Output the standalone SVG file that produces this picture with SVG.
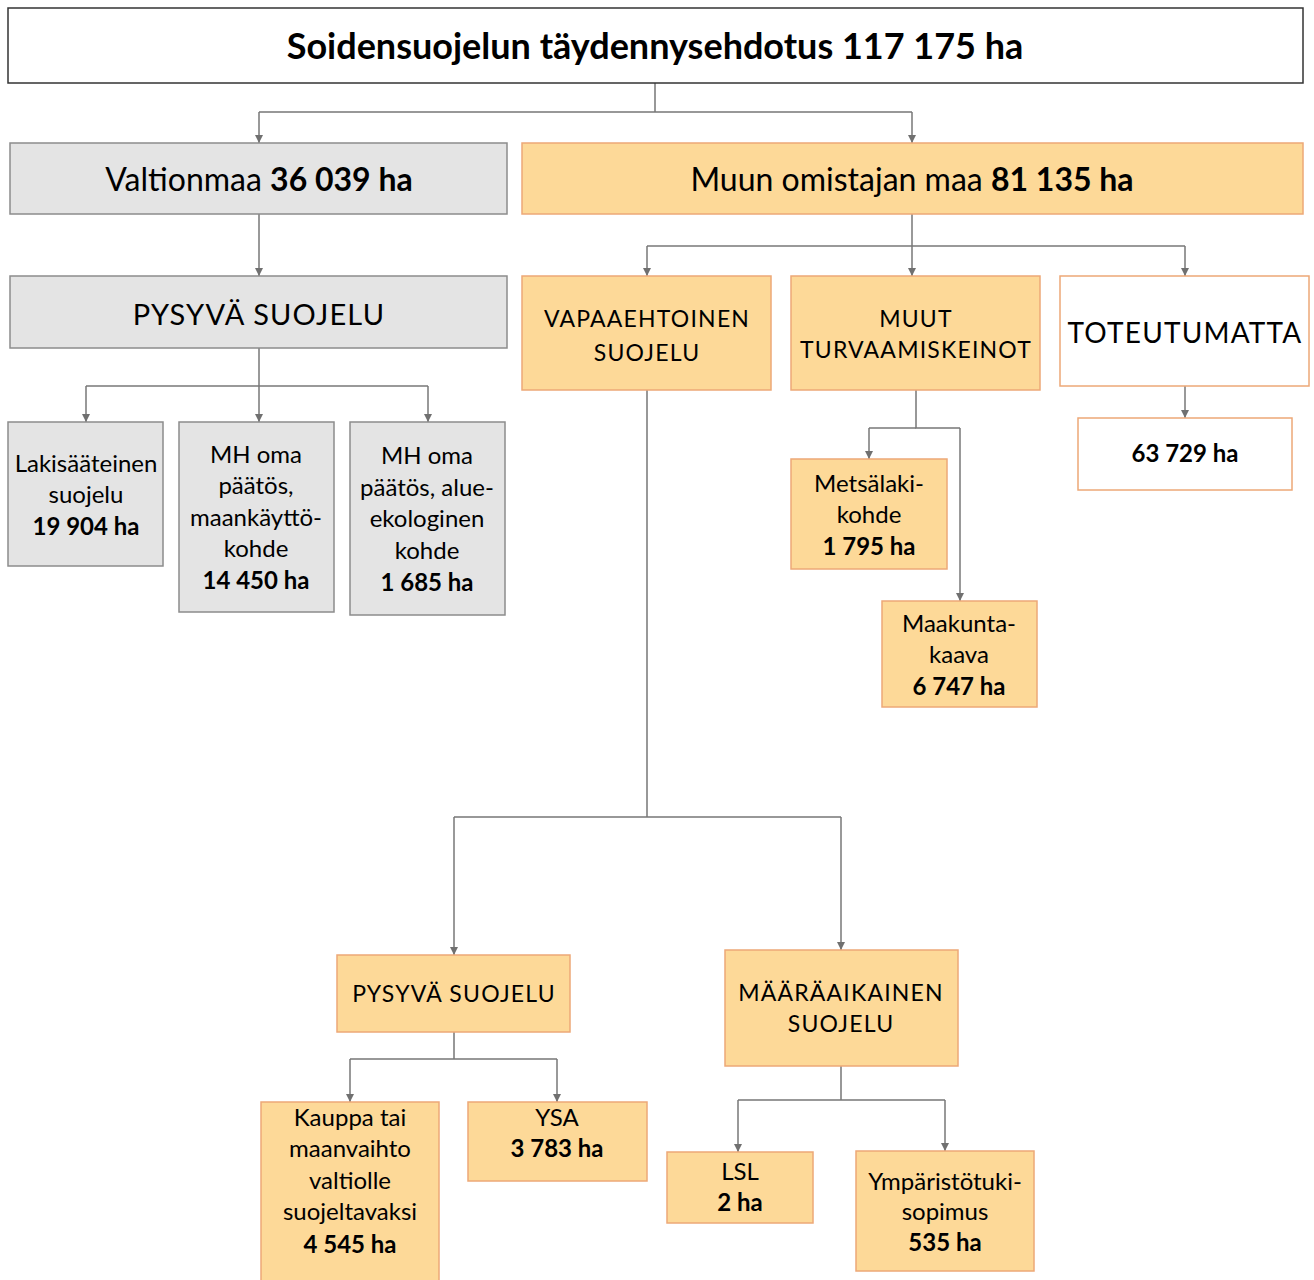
<svg xmlns="http://www.w3.org/2000/svg" width="1314" height="1280" viewBox="0 0 1314 1280">
<defs>
<marker id="arr" viewBox="0 0 10 10" refX="10" refY="5" markerWidth="8" markerHeight="8" markerUnits="userSpaceOnUse" orient="auto">
<path d="M0,0 L10,5 L0,10 z" fill="#707070"/>
</marker>
<style>
text{font-family:Lato,"Open Sans","Liberation Sans",sans-serif;fill:#000;text-anchor:middle}
.b{font-weight:bold}
.gray{fill:#e4e4e4;stroke:#8c8c8c;stroke-width:1.5}
.org{fill:#fdd998;stroke:#eda877;stroke-width:1.5}
.wht{fill:#fff;stroke:#eda877;stroke-width:1.5}
.c path{fill:none;stroke:#777;stroke-width:1.5}
.c path.a{marker-end:url(#arr)}
.t22{font-size:24px}
.tc{font-size:23px}
.cap{letter-spacing:1.2px}
</style>
</defs>
<rect width="1314" height="1280" fill="#fff"/>
<g class="c">
<path d="M655,83 V112 M259,112 H912"/>
<path class="a" d="M259,112 V143"/>
<path class="a" d="M912,112 V143"/>
<path class="a" d="M259,214 V276"/>
<path class="a" d="M259,348 V422"/>
<path d="M86,386 H428"/>
<path class="a" d="M86,386 V422"/>
<path class="a" d="M428,386 V422"/>
<path class="a" d="M912,214 V276"/>
<path d="M647,246 H1185"/>
<path class="a" d="M647,246 V276"/>
<path class="a" d="M1185,246 V276"/>
<path class="a" d="M1185,386 V418"/>
<path d="M916,390 V428 H960"/>
<path class="a" d="M869,428 H869 V459"/>
<path d="M869,428 H916"/>
<path class="a" d="M960,428 V601"/>
<path d="M647,390 V817 M454,817 H841"/>
<path class="a" d="M454,817 V955"/>
<path class="a" d="M841,817 V950"/>
<path d="M454,1032 V1059 M350,1059 H557"/>
<path class="a" d="M350,1059 V1102"/>
<path class="a" d="M557,1059 V1102"/>
<path d="M841,1066 V1100 M738,1100 H945"/>
<path class="a" d="M738,1100 V1152"/>
<path class="a" d="M945,1100 V1151"/>
</g>
<g id="title">
<rect x="8" y="8" width="1295" height="75" fill="#fff" stroke="#333" stroke-width="1.5"/>
<text class="b" x="655" y="59" font-size="36">Soidensuojelun täydennysehdotus 117 175 ha</text>
</g>
<g id="valtionmaa">
<rect class="gray" x="10" y="143" width="497" height="71"/>
<text x="259" y="191" font-size="32">Valtionmaa <tspan class="b">36 039 ha</tspan></text>
</g>
<g id="muun">
<rect class="org" x="522" y="143" width="781" height="71"/>
<text x="912" y="191" font-size="32">Muun omistajan maa <tspan class="b">81 135 ha</tspan></text>
</g>
<g id="pysyva1">
<rect class="gray" x="10" y="276" width="497" height="72"/>
<text class="cap" x="259" y="325" font-size="29">PYSYVÄ SUOJELU</text>
</g>
<g id="lakisaateinen">
<rect class="gray" x="8" y="422" width="155" height="144"/>
<text class="t22" x="86" y="472">Lakisääteinen</text>
<text class="t22" x="86" y="503">suojelu</text>
<text class="t22 b" x="86" y="535">19 904 ha</text>
</g>
<g id="mh1">
<rect class="gray" x="179" y="422" width="155" height="190"/>
<text class="t22" x="256" y="463">MH oma</text>
<text class="t22" x="256" y="494">päätös,</text>
<text class="t22" x="256" y="526">maankäyttö-</text>
<text class="t22" x="256" y="557">kohde</text>
<text class="t22 b" x="256" y="589">14 450 ha</text>
</g>
<g id="mh2">
<rect class="gray" x="350" y="422" width="155" height="193"/>
<text class="t22" x="427" y="464">MH oma</text>
<text class="t22" x="427" y="496">päätös, alue-</text>
<text class="t22" x="427" y="527">ekologinen</text>
<text class="t22" x="427" y="559">kohde</text>
<text class="t22 b" x="427" y="591">1 685 ha</text>
</g>
<g id="vapaaehtoinen">
<rect class="org" x="522" y="276" width="249" height="114"/>
<text class="tc cap" x="647" y="327">VAPAAEHTOINEN</text>
<text class="tc cap" x="647" y="361">SUOJELU</text>
</g>
<g id="muut">
<rect class="org" x="791" y="276" width="249" height="114"/>
<text class="tc cap" x="916" y="327">MUUT</text>
<text class="tc cap" x="916" y="358">TURVAAMISKEINOT</text>
</g>
<g id="toteutumatta">
<rect class="wht" x="1060" y="276" width="249" height="110"/>
<text class="cap" x="1185" y="343" font-size="28">TOTEUTUMATTA</text>
</g>
<g id="ha63729">
<rect class="wht" x="1078" y="418" width="214" height="72"/>
<text class="t22 b" x="1185" y="462">63 729 ha</text>
</g>
<g id="metsalaki">
<rect class="org" x="791" y="459" width="156" height="110"/>
<text class="t22" x="869" y="492">Metsälaki-</text>
<text class="t22" x="869" y="523">kohde</text>
<text class="t22 b" x="869" y="555">1 795 ha</text>
</g>
<g id="maakunta">
<rect class="org" x="882" y="601" width="155" height="106"/>
<text class="t22" x="959" y="632">Maakunta-</text>
<text class="t22" x="959" y="663">kaava</text>
<text class="t22 b" x="959" y="695">6 747 ha</text>
</g>
<g id="pysyva2">
<rect class="org" x="337" y="955" width="233" height="77"/>
<text class="tc cap" x="454" y="1002">PYSYVÄ SUOJELU</text>
</g>
<g id="maaraaikainen">
<rect class="org" x="725" y="950" width="233" height="116"/>
<text class="tc cap" x="841" y="1001">MÄÄRÄAIKAINEN</text>
<text class="tc cap" x="841" y="1032">SUOJELU</text>
</g>
<g id="kauppa">
<rect class="org" x="261" y="1102" width="178" height="182"/>
<text class="t22" x="350" y="1126">Kauppa tai</text>
<text class="t22" x="350" y="1157">maanvaihto</text>
<text class="t22" x="350" y="1189">valtiolle</text>
<text class="t22" x="350" y="1220">suojeltavaksi</text>
<text class="t22 b" x="350" y="1253">4 545 ha</text>
</g>
<g id="ysa">
<rect class="org" x="468" y="1102" width="179" height="79"/>
<text class="t22" x="557" y="1126">YSA</text>
<text class="t22 b" x="557" y="1157">3 783 ha</text>
</g>
<g id="lsl">
<rect class="org" x="667" y="1152" width="146" height="71"/>
<text class="t22" x="740" y="1180">LSL</text>
<text class="t22 b" x="740" y="1211">2 ha</text>
</g>
<g id="ymparistotuki">
<rect class="org" x="856" y="1151" width="178" height="120"/>
<text class="t22" x="945" y="1190">Ympäristötuki-</text>
<text class="t22" x="945" y="1220">sopimus</text>
<text class="t22 b" x="945" y="1251">535 ha</text>
</g>
</svg>
